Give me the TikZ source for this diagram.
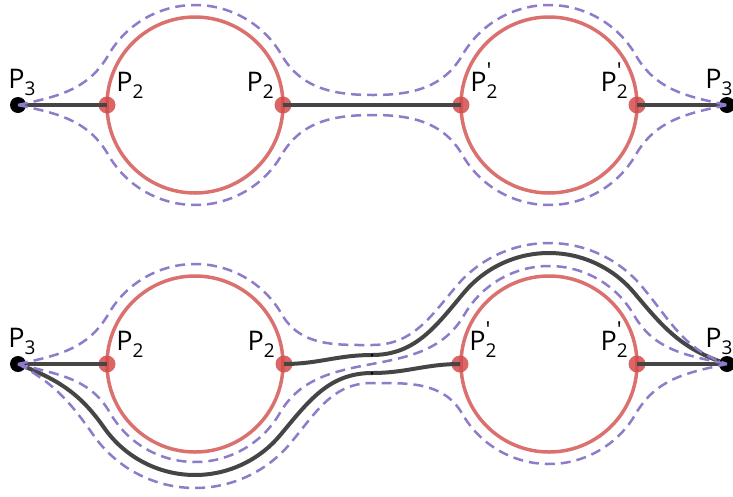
\documentclass[tikz,border=0pt]{standalone}
\usepackage{fontspec}
\setmainfont{Open Sans}
\usetikzlibrary{positioning, calc}

\definecolor{ringred}{HTML}{DB716F}
\definecolor{jointred}{HTML}{D44C4A}
\definecolor{linkgray}{HTML}{454545}
\definecolor{hullpurple}{HTML}{8E7BC9}

% point labels: P with subscript and optional prime
\newcommand{\plab}[2]{P\rlap{\raisebox{.5em}{\fontsize{22}{22}\selectfont #2}}\raisebox{-.25em}{\fontsize{19}{19}\selectfont #1}}

\begin{document}
\begin{tikzpicture}[
    x=1pt, y=1pt,
    ring/.style={draw=ringred, line width=3.5pt},
    joint/.style={circle, fill=jointred, fill opacity=0.85, minimum size=17pt, inner sep=0pt},
    endpt/.style={circle, fill=black, minimum size=16pt, inner sep=0pt},
    link/.style={draw=linkgray, line width=4pt},
    hull/.style={draw=hullpurple, line width=2.5pt, dash pattern=on 10pt off 6pt},
    lbl/.style={inner sep=0pt, font=\fontsize{27}{30}\selectfont}
]
\useasboundingbox (0,-496) rectangle (733,0);
\clip (0,-496) rectangle (733,0);

% Top row
\coordinate (c1) at (195,-105);
\coordinate (c2) at (549,-105);
\draw[ring] (c1) circle[radius=88];
\draw[ring] (c2) circle[radius=88];
\node[joint] (p2a) at (107,-105) {};
\node[joint] (p2b) at (283,-105) {};
\node[joint] (p2c) at (461,-105) {};
\node[joint] (p2d) at (637,-105) {};
\node[endpt] (p3l) at (18,-105) {};
\node[endpt] (p3r) at (727,-105) {};
\draw[link] (p3l) -- (p2a.center);
\draw[link] (p2b.center) -- (p2c.center);
\draw[link] (p2d.center) -- (p3r);
\coordinate (dipu) at (373,-95);
\coordinate (dipl) at (373,-115);
\draw[hull] (p3l.center) to[out=12,in=240] ($(c1)+(150:100)$) arc[start angle=150,end angle=30,radius=100]
    to[out=-60,in=180] (dipu) to[out=0,in=240] ($(c2)+(150:100)$) arc[start angle=150,end angle=30,radius=100]
    to[out=-60,in=168] (p3r.center);
\draw[hull] (p3l.center) to[out=-12,in=120] ($(c1)+(210:100)$) arc[start angle=210,end angle=330,radius=100]
    to[out=60,in=180] (dipl) to[out=0,in=120] ($(c2)+(210:100)$) arc[start angle=210,end angle=330,radius=100]
    to[out=60,in=192] (p3r.center);
\node[lbl, above=1pt of p3l, xshift=4pt] (l3l) {\plab{3}{}};
\node[lbl, above right=0pt and 3pt of p2a] (l2a) {\plab{2}{}};
\node[lbl, above left=0pt and 3pt of p2b] (l2b) {\plab{2}{}};
\node[lbl, above right=0pt and 3pt of p2c] (l2c) {\plab{2}{\textquotesingle}};
\node[lbl, above left=0pt and 3pt of p2d] (l2d) {\plab{2}{\textquotesingle}};
\node[lbl, above=1pt of p3r, xshift=-8pt] (l3r) {\plab{3}{}};

% Bottom row
\coordinate (bc1) at (195,-364);
\coordinate (bc2) at (549,-364);
\draw[ring] (bc1) circle[radius=88];
\draw[ring] (bc2) circle[radius=88];
\node[joint] (bp2a) at (107,-364) {};
\node[joint] (bp2b) at (284,-364) {};
\node[joint] (bp2c) at (460,-364) {};
\node[joint] (bp2d) at (637,-364) {};
\node[endpt] (bp3l) at (18,-364) {};
\node[endpt] (bp3r) at (727,-364) {};
\draw[link] (bp3l) -- (bp2a.center);
\draw[link] (bp2d.center) -- (bp3r);
\coordinate (bmida) at (372,-373);
\coordinate (bmidb) at (372,-355);
\draw[link] (bp3l) to[out=-22,in=125] ($(bc1)+(215:111)$) arc[start angle=215,end angle=320,radius=111]
    to[out=50,in=180] (bmida) to[out=0,in=180] (bp2c.center);
\draw[link] (bp2b.center) to[out=0,in=180] (bmidb) to[out=0,in=230] ($(bc2)+(140:111)$) arc[start angle=140,end angle=40,radius=111]
    to[out=-50,in=160] (bp3r);
\fill[black] (bmida) circle[radius=1.5];
\fill[black] (bmidb) circle[radius=1.5];
\coordinate (bdipu) at (372,-345);
\coordinate (bdipl) at (372,-383);
\draw[hull] (bp3l.center) to[out=12,in=240] ($(bc1)+(150:100)$) arc[start angle=150,end angle=30,radius=100]
    to[out=-60,in=180] (bdipu) to[out=0,in=230] ($(bc2)+(140:121)$) arc[start angle=140,end angle=40,radius=121]
    to[out=-50,in=162] (bp3r.center);
\draw[hull] (bp3l.center) to[out=-15,in=120] ($(bc1)+(210:98)$) arc[start angle=210,end angle=330,radius=98]
    to[out=60,in=240] ($(bc2)+(150:98)$) arc[start angle=150,end angle=30,radius=98]
    to[out=-60,in=168] (bp3r.center);
\draw[hull] (bp3l.center) to[out=-28,in=125] ($(bc1)+(215:124)$) arc[start angle=215,end angle=320,radius=124]
    to[out=50,in=180] (bdipl) to[out=0,in=120] ($(bc2)+(210:100)$) arc[start angle=210,end angle=330,radius=100]
    to[out=60,in=192] (bp3r.center);
\node[lbl, above=1pt of bp3l, xshift=4pt] (bl3l) {\plab{3}{}};
\node[lbl, above right=0pt and 3pt of bp2a] (bl2a) {\plab{2}{}};
\node[lbl, above left=0pt and 3pt of bp2b] (bl2b) {\plab{2}{}};
\node[lbl, above right=0pt and 3pt of bp2c] (bl2c) {\plab{2}{\textquotesingle}};
\node[lbl, above left=0pt and 3pt of bp2d] (bl2d) {\plab{2}{\textquotesingle}};
\node[lbl, above=1pt of bp3r, xshift=-8pt] (bl3r) {\plab{3}{}};

\end{tikzpicture}
\end{document}
